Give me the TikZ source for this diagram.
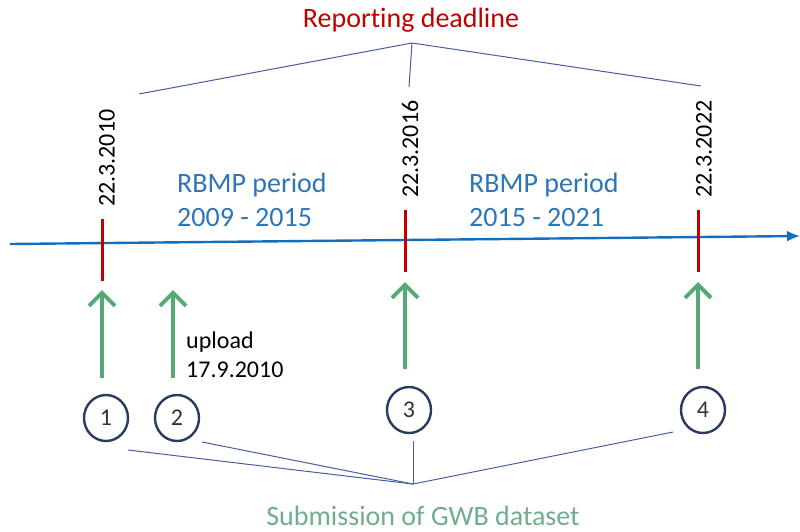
\documentclass[tikz,border=0pt]{standalone}
\usepackage{fontspec}
\setmainfont{Carlito}[Ligatures=NoCommon]
\usepackage{xcolor}
\definecolor{deadred}{RGB}{192,0,0}
\definecolor{axisblue}{RGB}{20,110,190}
\definecolor{periodblue}{RGB}{46,117,182}
\definecolor{subgreen}{RGB}{88,168,118}
\definecolor{subtext}{RGB}{112,172,142}
\definecolor{ringblue}{RGB}{42,58,96}
\definecolor{linkblue}{RGB}{72,92,160}
\usepackage{tikz}
\usetikzlibrary{arrows.meta,positioning,shapes.geometric}

\begin{document}
\begin{tikzpicture}[x=1pt,y=-1pt,
    bigtext/.style={font=\fontsize{28}{34}\selectfont,inner sep=0pt},
    smalltext/.style={font=\fontsize{24}{29}\selectfont,inner sep=0pt},
    datelabel/.style={smalltext,rotate=90,anchor=west},
    tickmark/.style={deadred,line width=3pt},
    uparrow/.style={subgreen,line width=4pt,-{Straight Barb[length=13pt,width=26pt]}},
    ring/.style={ellipse,draw=ringblue,line width=2.4pt,minimum width=44pt,minimum height=46pt,inner sep=0pt,
      font=\fontsize{24}{28}\selectfont,text=black!80},
    link/.style={linkblue,line width=1pt}]
    % Frame
    \useasboundingbox (0,0) rectangle (800,531);
    % Title
    \node[bigtext,text=deadred] (title) at (411,20) {Reporting deadline};
    \coordinate (topapex) at (412,43);
    % Time axis
    \coordinate (axstart) at (10,244);
    \coordinate (axend) at (800,236);
    \draw[axisblue,line width=2.4pt,-{Latex[length=13pt,width=11pt]}] (axstart) -- (axend);
    % Deadline ticks
    \coordinate (k1a) at (102,219);  % first deadline
    \coordinate (k1b) at (102,281);
    \coordinate (k2a) at (405,210);  % second deadline
    \coordinate (k2b) at (405,272);
    \coordinate (k3a) at (698,210);  % third deadline
    \coordinate (k3b) at (698,272);
    \draw[tickmark] (k1a) -- (k1b);
    \draw[tickmark] (k2a) -- (k2b);
    \draw[tickmark] (k3a) -- (k3b);
    % Dates
    \node[datelabel] (d1) at (107,207) {22.3.2010};
    \node[datelabel] (d2) at (410,198) {22.3.2016};
    \node[datelabel] (d3) at (704,198) {22.3.2022};
    % Links to the title
    \coordinate (tl) at (139,94);
    \coordinate (tm) at (409,87);
    \coordinate (tr) at (701,86);
    \draw[link] (topapex) -- (tl);
    \draw[link] (topapex) -- (tm);
    \draw[link] (topapex) -- (tr);
    % Periods
    \node[bigtext,text=periodblue,align=left,anchor=west] (p1) at (177,200) {RBMP period\\2009 - 2015};
    \node[bigtext,text=periodblue,align=left,anchor=west] (p2) at (469,200) {RBMP period\\2015 - 2021};
    % Submissions
    \node[ring] (c1) at (106,418) {1};
    \node[ring] (c2) at (177,418) {2};
    \node[ring] (c3) at (409,410) {3};
    \node[ring] (c4) at (703,410) {4};
    \coordinate (a1s) at (102,378);
    \coordinate (a1e) at (102,290);
    \coordinate (a2s) at (173,378);
    \coordinate (a2e) at (173,290);
    \coordinate (a3s) at (405,369);
    \coordinate (a3e) at (405,282);
    \coordinate (a4s) at (698,369);
    \coordinate (a4e) at (698,282);
    \draw[uparrow] (a1s) -- (a1e);
    \draw[uparrow] (a2s) -- (a2e);
    \draw[uparrow] (a3s) -- (a3e);
    \draw[uparrow] (a4s) -- (a4e);
    \node[smalltext,align=left,anchor=west] (up) at (186,355) {upload\\17.9.2010};
    % Links to the caption
    \coordinate (botapex) at (413,484);
    \coordinate (b1) at (128,450);
    \coordinate (b2) at (202,442);
    \coordinate (b3) at (413,441);
    \coordinate (b4) at (673,432);
    \draw[link] (botapex) -- (b1);
    \draw[link] (botapex) -- (b2);
    \draw[link] (botapex) -- (b3);
    \draw[link] (botapex) -- (b4);
    \node[bigtext,text=subtext,anchor=base] (cap) at (423,525) {Submission of GWB dataset};
\end{tikzpicture}
\end{document}
